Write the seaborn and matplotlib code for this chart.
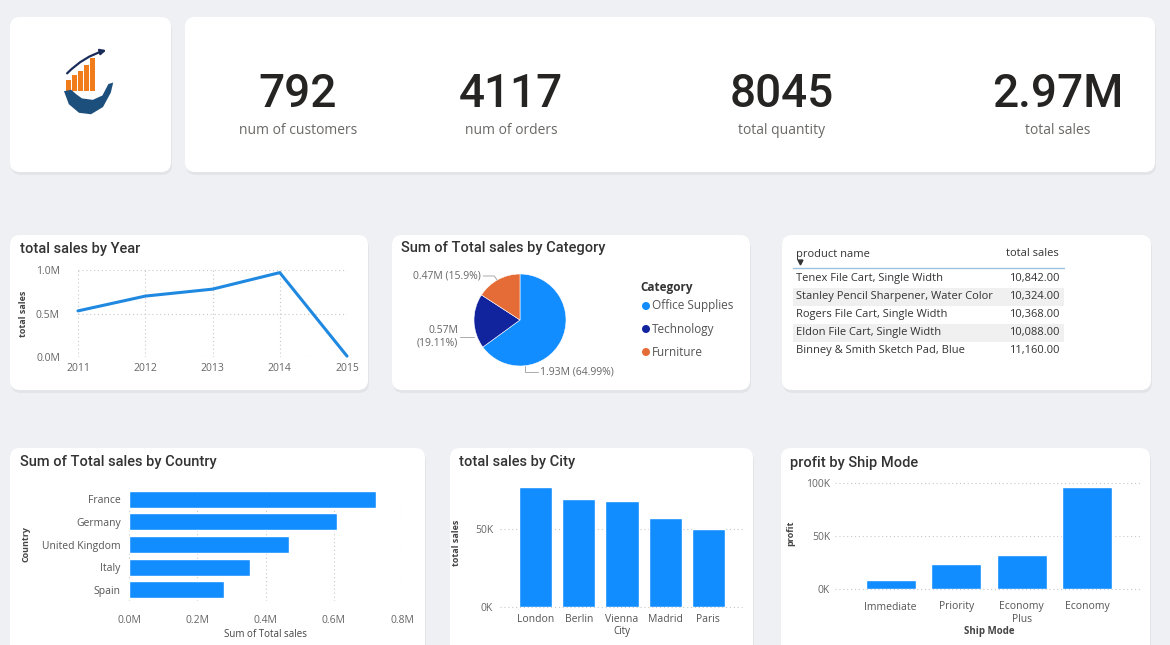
import matplotlib
matplotlib.use("Agg")
import matplotlib.pyplot as plt
import seaborn as sns
import pandas as pd
from matplotlib.patches import FancyBboxPatch, Rectangle, Circle, Polygon
from matplotlib.ticker import FuncFormatter

# ---------------- data ----------------
kpi_values = ["792", "4117", "8045", "2.97M"]
kpi_labels = ["num of customers", "num of orders", "total quantity", "total sales"]

years = [2011, 2012, 2013, 2014, 2015]
year_sales = [0.53, 0.70, 0.78, 0.97, 0.01]  # millions

categories = ["Office Supplies", "Technology", "Furniture"]
category_sales = [1.93, 0.57, 0.47]  # millions
category_labels = ["1.93M (64.99%)", "0.57M\n(19.11%)", "0.47M (15.9%)"]

products = ["Tenex File Cart, Single Width",
            "Stanley Pencil Sharpener, Water Color",
            "Rogers File Cart, Single Width",
            "Eldon File Cart, Single Width",
            "Binney & Smith Sketch Pad, Blue"]
product_sales = [10842.00, 10324.00, 10368.00, 10088.00, 11160.00]

countries = ["France", "Germany", "United Kingdom", "Italy", "Spain"]
country_sales = [0.724, 0.610, 0.469, 0.355, 0.279]  # millions

cities = ["London", "Berlin", "Vienna", "Madrid", "Paris"]
city_sales = [76900, 69200, 67900, 57100, 50300]

ship_modes = ["Immediate", "Priority", "Economy\nPlus", "Economy"]
ship_profit = [8500, 23600, 32000, 96200]

# ---------------- style ----------------
BG = "#eef0f3"
CARD = "#ffffff"
BLUE = "#118DFF"
LINE_BLUE = "#1f88e0"
PIE_COLORS = ["#118DFF", "#12239E", "#E66C37"]
DARK = "#252423"
GRAY = "#605e5c"
TITLE_FONT = ["Roboto", "DejaVu Sans"]
BODY_FONT = ["Open Sans", "DejaVu Sans"]

sns.set_theme(style="white")
plt.rcParams["font.family"] = BODY_FONT

W, H = 1170, 645
fig = plt.figure(figsize=(W / 100, H / 100), dpi=100)
fig.patch.set_facecolor(BG)


def rect(x0, y0, x1, y1):
    return [x0 / W, 1 - y1 / H, (x1 - x0) / W, (y1 - y0) / H]


bg = fig.add_axes([0, 0, 1, 1])
bg.set_xlim(0, W)
bg.set_ylim(H, 0)
bg.axis("off")
bg.set_zorder(0)


def card(x0, y0, x1, y1):
    sh = FancyBboxPatch((x0 + 1, y0 + 3), x1 - x0, y1 - y0,
                        boxstyle="round,pad=0,rounding_size=10",
                        fc="#e0e2e6", ec="none", alpha=0.8)
    bg.add_patch(sh)
    p = FancyBboxPatch((x0, y0), x1 - x0, y1 - y0,
                       boxstyle="round,pad=0,rounding_size=10",
                       fc=CARD, ec="none")
    bg.add_patch(p)


card(10, 17, 171, 172)
card(185, 17, 1155, 172)
card(10, 235, 368, 390)
card(392, 235, 750, 390)
card(782, 235, 1151, 390)
card(10, 448, 425, 660)
card(450, 448, 753, 660)
card(781, 448, 1150, 660)

# ---------------- KPI ----------------
kpi_x = [298, 511, 782, 1058]
for x, v, l in zip(kpi_x, kpi_values, kpi_labels):
    bg.text(x, 94, v, ha="center", va="center", fontsize=33, color=DARK,
            family=TITLE_FONT, fontweight="medium")
    bg.text(x, 131, l, ha="center", va="center", fontsize=10, color="#6b6966",
            family=BODY_FONT)

# ---------------- logo ----------------
lg = fig.add_axes(rect(58, 48, 118, 120))
lg.set_xlim(0, 1)
lg.set_ylim(0, 1)
lg.axis("off")
for i, h in enumerate([0.16, 0.22, 0.28, 0.36, 0.46]):
    lg.add_patch(Rectangle((0.14 + i * 0.1, 0.40), 0.07, h, fc="#f07c1c", ec="none"))
hand = Polygon([(0.10, 0.40), (0.18, 0.22), (0.35, 0.10), (0.55, 0.08), (0.75, 0.18),
                (0.88, 0.38), (0.92, 0.52), (0.84, 0.50), (0.74, 0.34), (0.58, 0.28),
                (0.40, 0.30), (0.30, 0.36), (0.22, 0.42)], closed=True,
               fc="#1d4f7c", ec="none")
lg.add_patch(hand)
lg.annotate("", xy=(0.85, 0.98), xytext=(0.12, 0.62),
            arrowprops=dict(arrowstyle="-|>", color="#1a2d5a", lw=1.6,
                            connectionstyle="arc3,rad=-0.15", mutation_scale=8))

# ---------------- titles ----------------
titles = [(20, 249, "total sales by Year"),
          (401, 248, "Sum of Total sales by Category"),
          (20, 462, "Sum of Total sales by Country"),
          (459, 462, "total sales by City"),
          (790, 463, "profit by Ship Mode")]
for x, y, t in titles:
    bg.text(x, y, t, ha="left", va="center", fontsize=10.5, color="#333333",
            family=TITLE_FONT, fontweight="medium")

TICK_KW = dict(labelsize=7.5, labelcolor="#666666", length=0)
GRID_KW = dict(linestyle=(0, (1, 2.5)), color="#c8c8c8", linewidth=0.8)


def clean(ax):
    ax.set_facecolor("none")
    for s in ax.spines.values():
        s.set_visible(False)


def hgrid(ax, ticks, xmin, xmax):
    for t in ticks:
        ax.axhline(t, xmin=xmin, xmax=xmax, clip_on=False, zorder=0, **GRID_KW)


# ---------------- line chart ----------------
ax = fig.add_axes(rect(78, 270, 347, 357))
clean(ax)
df_year = pd.DataFrame({"Year": years, "total sales": year_sales})
sns.lineplot(data=df_year, x="Year", y="total sales", ax=ax, color=LINE_BLUE,
             linewidth=2.2, clip_on=False)
ax.set_xlim(2011, 2015)
ax.set_ylim(0, 1.0)
ax.set_xticks(years)
ax.set_yticks([0, 0.5, 1.0])
ax.yaxis.set_major_formatter(FuncFormatter(lambda v, p: f"{v:.1f}M"))
ax.tick_params(axis="y", pad=13, **TICK_KW)
ax.tick_params(axis="x", pad=4, **TICK_KW)
ax.grid(True, **GRID_KW)
ax.set_xlabel("")
ax.set_ylabel("total sales", fontsize=6.5, color="#444444", fontweight="bold", labelpad=6)

# ---------------- pie ----------------
ax = fig.add_axes(rect(474, 274, 566, 366))
ax.pie(category_sales, colors=PIE_COLORS, startangle=90, counterclock=False,
       radius=1, wedgeprops=dict(linewidth=0.4, edgecolor="white"))
ax.set_xlim(-1, 1)
ax.set_ylim(-1, 1)
label_pos = [(0.43, -1.13, "left"), (-1.35, -0.37, "right"), (-0.85, 0.957, "right")]
leader = [[(0.11, -0.99), (0.11, -1.13), (0.39, -1.13)],
          [(-0.99, -0.37), (-1.30, -0.37)],
          [(-0.50, 0.87), (-0.56, 0.957), (-0.80, 0.957)]]
for (tx, ty, ha), lbl, ln in zip(label_pos, category_labels, leader):
    ax.text(tx, ty, lbl, ha=ha, va="center", fontsize=7.5, color="#666666",
            multialignment=ha, clip_on=False)
    xs, ys = zip(*ln)
    ax.plot(xs, ys, color="#aaaaaa", lw=0.7, clip_on=False)

bg.text(640, 287, "Category", ha="left", va="center", fontsize=8.5,
        color="#333333", fontweight="bold")
for i, (c, col) in enumerate(zip(categories, PIE_COLORS)):
    y = [306, 329, 352][i]
    bg.add_patch(Circle((646, y), 4, fc=col, ec="none"))
    bg.text(652, y, c, ha="left", va="center", fontsize=8.5, color="#555555")

# ---------------- table ----------------
bg.text(796, 254, "product name", ha="left", va="center", fontsize=8, color="#333333")
bg.text(1059, 254, "total sales", ha="right", va="center", fontsize=8, color="#333333")
bg.plot([800], [262], marker="v", ms=3.5, color="#333333")
bg.plot([793, 1064], [268, 268], color="#9ec2e0", lw=1)
for i, (p, s) in enumerate(zip(products, product_sales)):
    y = 279 + i * 18
    if i % 2 == 1:
        bg.add_patch(Rectangle((793, y - 9), 271, 18, fc="#f0f0f0", ec="none"))
    bg.text(796, y, p, ha="left", va="center", fontsize=8, color="#333333")
    bg.text(1060, y, f"{s:,.2f}", ha="right", va="center", fontsize=8, color="#333333")

# ---------------- country bars ----------------
ax = fig.add_axes(rect(129, 488, 402, 601))
clean(ax)
df_c = pd.DataFrame({"Country": countries, "Sum of Total sales": country_sales})
sns.barplot(data=df_c, y="Country", x="Sum of Total sales", color=BLUE,
            saturation=1, width=0.75, orient="h", ax=ax)
ax.set_xlim(0, 0.8)
ax.set_xticks([0, 0.2, 0.4, 0.6, 0.8])
ax.xaxis.set_major_formatter(FuncFormatter(lambda v, p: f"{v:.1f}M"))
ax.tick_params(axis="x", pad=10, **TICK_KW)
ax.tick_params(axis="y", pad=6, labelsize=7.5, labelcolor="#555555", length=0)
ax.grid(True, axis="x", **GRID_KW)
ax.set_axisbelow(True)
ax.set_xlabel("Sum of Total sales", fontsize=7, color="#444444", labelpad=2)
ax.set_ylabel("Country", fontsize=6.5, color="#444444", fontweight="bold", labelpad=8)

# ---------------- city bars ----------------
ax = fig.add_axes(rect(514, 478, 730, 607))
clean(ax)
df_city = pd.DataFrame({"City": cities, "total sales": city_sales})
sns.barplot(data=df_city, x="City", y="total sales", color=BLUE, saturation=1,
            width=0.77, ax=ax, zorder=2)
ax.set_ylim(0, 82700)
ax.set_yticks([0, 50000])
ax.yaxis.set_major_formatter(FuncFormatter(lambda v, p: f"{v/1000:.0f}K"))
ax.tick_params(axis="y", pad=15, **TICK_KW)
ax.tick_params(axis="x", pad=5, labelsize=7.5, labelcolor="#555555", length=0)
hgrid(ax, [0, 50000], -0.065, 1.07)
ax.set_xlabel("City", fontsize=7, color="#444444", labelpad=1)
ax.set_ylabel("total sales", fontsize=6.5, color="#444444", fontweight="bold", labelpad=10)

# ---------------- ship mode bars ----------------
ax = fig.add_axes(rect(858, 478, 1120, 589))
clean(ax)
df_s = pd.DataFrame({"Ship Mode": ship_modes, "profit": ship_profit})
sns.barplot(data=df_s, x="Ship Mode", y="profit", color=BLUE, saturation=1,
            width=0.77, ax=ax, zorder=2)
ax.set_ylim(0, 104700)
ax.set_yticks([0, 50000, 100000])
ax.yaxis.set_major_formatter(FuncFormatter(lambda v, p: f"{v/1000:.0f}K"))
ax.tick_params(axis="y", pad=20, **TICK_KW)
ax.tick_params(axis="x", pad=9, labelsize=7.5, labelcolor="#555555", length=0)
hgrid(ax, [0, 50000, 100000], -0.088, 1.076)
ax.set_xlabel("Ship Mode", fontsize=7, color="#444444", fontweight="bold", labelpad=1)
ax.set_ylabel("profit", fontsize=6.5, color="#444444", fontweight="bold", labelpad=8)

fig.savefig("out.png", dpi=100, facecolor=BG)
